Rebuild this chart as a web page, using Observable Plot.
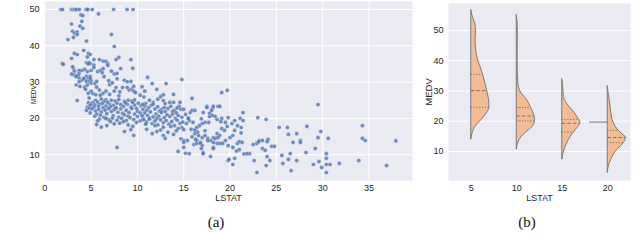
<!DOCTYPE html>
<html><head><meta charset="utf-8">
<script src="https://cdn.jsdelivr.net/npm/d3@7"></script>
<script src="https://cdn.jsdelivr.net/npm/@observablehq/plot@0.6"></script>
<style>
html,body{margin:0;padding:0;background:#fff;}
#wrap{position:relative;width:640px;height:246px;overflow:hidden;font-family:"Liberation Sans",Arial,sans-serif;}
#pa{position:absolute;left:0;top:0;}
#pb{position:absolute;left:400px;top:0;}
.cap{position:absolute;font-family:"Liberation Serif","Times New Roman","DejaVu Serif",serif;font-size:15px;color:#111;transform:translateX(-50%);white-space:nowrap;}
</style></head><body>
<div id="wrap"><div id="pa"></div><div id="pb"></div>
<div class="cap" style="left:216px;top:214px">(a)</div>
<div class="cap" style="left:527px;top:214px">(b)</div>
</div>
<script>
// ---------- Panel (a) data: [LSTAT, MEDV] ----------
const lstatMedv = [
[1.73,50],[1.92,50],[2.88,50],[2.97,50],[3.05,50],[3.16,50],[3.26,50],[3.32,50],[3.45,50],[3.73,50],[4.45,50],[4.59,50],[4.63,50],[5.12,50],[7.44,50],[8.88,50],[9.53,50],
[3.9,48.5],[4.1,48.3],[5.8,48.8],[2.9,46.0],[3.8,45.4],[4.0,46.7],[4.1,44.8],[3.0,44.0],[3.2,43.5],[3.5,43.8],[3.5,43.1],[7.2,43.1],[3.1,42.3],[2.5,41.7],[4.5,41.3],[7.5,39.8],[3.2,37.9],[3.5,37.6],[4.2,38.7],[4.7,37.9],[4.9,37.6],[2.9,36.5],[4.6,36.9],[5.3,36.2],[6.3,35.8],[8.0,36.8],[7.7,36.2],[9.3,36.2],[5.9,36.2],
[1.9,35.1],[4.5,35.4],[4.6,35.2],[4.8,35.4],[4.9,35.1],[4.7,35.0],[5.3,34.7],[6.6,35.7],[6.8,35.1],[9.5,33.8],[5.3,34.0],[6.8,34.6],[5.0,33.2],[4.6,32.9],[4.3,33.5],[4.0,33.2],[3.1,33.7],[3.2,33.0],[3.7,33.2],[5.7,32.9],[6.0,33.2],[6.3,33.7],[6.2,32.6],[7.2,33.0],[8.2,33.7],[3.0,34.2],
[3.7,32.4],[7.5,32.2],[7.8,32.4],[3.2,31.9],[3.6,31.9],[3.7,31.1],[4.0,30.5],[4.3,30.8],[4.5,31.6],[4.7,31.1],[4.9,31.6],[4.5,30.2],[4.8,30.2],[5.0,29.7],[4.6,29.2],[5.0,30.5],[5.4,29.6],[5.6,30.2],[3.7,30.1],[3.4,29.2],[7.0,29.3],[7.3,29.8],[8.6,30.5],[9.3,30.2],[6.4,31.5],[6.9,30.4],[7.8,30.9],[8.9,30.1],[11.1,31.3],[11.6,29.6],[13.1,29.6],[14.8,30.7],[2.0,34.9],[2.9,32.2],[3.4,31.5],[4.2,31.0],[4.9,31.1],
[4.3,28.6],[5.6,28.6],[5.9,27.8],[3.8,28.8],[7.7,28.5],[8.4,28.5],[9.4,28.1],[9.6,27.5],[9.1,27.8],[8.9,28.5],[8.1,27.3],[7.5,27.5],[6.6,27.5],[6.3,26.9],[5.0,27.5],[4.7,26.9],[4.4,28.0],[5.2,26.8],[12.1,28.0],[13.9,26.6],[9.6,28.8],[9.8,27.1],[10.3,26.4],[10.8,27.5],[6.0,26.4],[7.0,26.6],[8.0,26.2],[5.5,26.5],[19.1,27.1],[19.7,27.7],[12.8,26.5],[10.5,28.7],
[4.8,25.6],[5.5,25.0],[6.1,25.3],[6.6,25.1],[7.2,25.0],[7.6,24.8],[8.0,25.2],[8.6,24.7],[9.0,25.0],[9.4,24.8],[9.7,25.1],[5.7,24.5],[6.4,24.6],[5.2,24.4],[4.7,24.3],[3.5,24.9],
[5.0,24.0],[5.4,23.7],[5.9,23.9],[6.2,24.1],[6.6,23.4],[7.0,23.9],[7.4,23.6],[7.8,24.2],[8.2,23.8],[8.5,23.3],[8.9,23.9],[9.3,23.1],[9.7,23.7],[10.1,24.2],[10.4,23.5],[5.3,23.1],[5.8,23.3],[6.3,22.9],[7.1,23.2],[7.6,22.9],[4.6,23.1],[6.8,24.4],[8.7,24.3],[9.5,24.4],[4.9,23.6],
[4.8,22.8],[5.1,22.6],[5.5,22.0],[5.8,22.5],[6.1,21.8],[6.5,22.3],[6.9,22.7],[7.2,21.9],[7.5,22.4],[7.9,21.7],[8.2,22.6],[8.4,21.4],[8.8,22.2],[9.1,21.6],[9.4,22.7],[9.7,21.2],[10.0,22.0],[10.3,21.5],[10.6,22.5],[4.5,22.2],[4.9,21.5],[5.6,21.2],[6.7,21.3],[7.7,22.9],[8.6,21.0],[9.0,20.6],[9.9,22.8],[6.0,20.9],[7.4,20.7],[8.0,20.3],
[5.4,20.6],[5.9,19.8],[6.4,20.3],[6.9,19.6],[7.3,20.1],[7.8,19.5],[8.3,20.0],[8.8,19.4],[9.2,20.2],[9.6,19.7],[10.0,20.5],[10.3,19.3],[10.6,20.1],[6.6,20.0],[8.5,19.1],[9.9,18.9],[7.1,19.1],[5.7,19.3],
[5.6,18.3],[6.7,18.0],[7.5,18.5],[8.1,18.7],[9.0,18.2],[9.5,17.8],[8.6,16.4],[9.6,15.3],[7.8,12.0],[6.1,17.6],[9.3,16.9],
[10.9,24.1],[11.7,24.4],[13.0,24.1],[13.5,24.4],[14.6,24.4],[14.5,23.3],[12.8,24.9],[13.9,24.4],[12.2,25.3],[11.3,25.0],[15.9,25.5],[10.7,25.9],[12.5,26.0],
[10.8,23.4],[11.2,22.9],[11.5,23.6],[11.9,22.6],[12.2,23.2],[12.6,22.4],[12.9,23.0],[13.3,22.7],[13.6,23.3],[14.0,22.2],[14.3,22.9],[14.7,22.5],[11.0,22.2],[12.4,22.0],[13.8,21.9],[15.0,22.5],[10.6,23.9],[11.7,23.9],
[10.8,21.5],[11.1,20.8],[11.4,21.8],[11.7,20.4],[12.0,21.2],[12.3,20.6],[12.6,21.6],[12.9,20.2],[13.2,21.0],[13.5,20.5],[13.8,21.2],[14.1,20.0],[14.4,20.8],[14.8,20.3],[11.3,20.1],[12.1,20.0],[13.0,21.9],[14.2,21.5],[10.5,20.8],[15.2,21.1],[15.7,21.6],[15.9,22.2],[16.2,22.2],[15.5,20.0],
[10.7,19.6],[11.0,19.0],[11.3,19.8],[11.6,18.6],[11.9,19.3],[12.2,18.2],[12.5,19.6],[12.8,18.8],[13.1,19.4],[13.4,18.4],[13.7,19.1],[14.0,18.0],[14.3,19.5],[14.6,18.6],[14.9,19.0],[11.9,18.0],[12.8,17.6],[13.6,17.8],[14.8,17.5],[14.4,17.2],[15.0,16.9],[10.9,18.4],[15.3,18.6],[15.6,19.4],[16.0,18.9],
[11.6,15.8],[12.1,16.4],[12.8,15.3],[12.5,16.8],[13.3,16.2],[13.9,15.6],[14.2,16.6],[11.0,17.0],[13.0,14.5],[14.7,14.4],[15.0,13.9],[15.0,13.4],[15.4,13.9],[15.0,12.0],[14.4,10.9],[15.6,10.3],[15.2,10.4],
[17.1,21.6],[17.5,23.3],[18.1,22.7],[17.8,21.4],[17.8,20.5],[18.7,23.3],[18.2,23.3],[18.9,23.3],[17.5,23.0],[18.0,22.2],[18.1,20.8],[18.4,20.5],[17.7,18.9],[17.3,18.9],[17.0,18.6],[16.7,18.0],[16.4,17.5],[15.5,20.0],[19.1,20.0],[19.5,18.9],[19.8,20.2],[20.2,18.6],[20.5,19.4],[20.8,18.0],[19.1,17.2],[19.4,16.7],[19.7,17.8],[18.6,15.8],[18.9,15.3],[18.2,14.7],[16.2,15.8],[16.6,15.3],[17.0,14.7],[17.3,15.3],[17.6,14.5],[17.9,13.9],[18.2,13.4],[16.4,13.9],[16.8,13.4],[16.1,12.8],[20.0,14.7],[20.5,16.7],[20.8,13.1],[21.0,11.4],[19.5,13.9],[19.8,12.5],[16.4,13.1],[16.8,13.1],[16.3,14.2],[17.0,12.5],[16.9,11.7],[17.6,13.9],[18.2,12.0],[18.6,13.1],[18.4,14.5],[17.1,10.6],[17.9,9.5],[17.1,10.3],[18.9,13.1],[19.2,13.1],[18.2,11.7],[18.7,14.7],[18.6,19.7],[16.5,16.2],[17.3,16.6],[15.8,17.0],[16.9,19.9],[19.0,19.1],[15.9,14.9],[16.2,16.8],
[19.8,8.4],[19.9,8.7],[20.3,7.3],[20.5,9.0],[22.6,8.4],[22.9,5.1],[23.9,7.0],[24.3,8.4],[20.3,15.3],[21.0,13.6],[21.3,13.4],[21.1,20.0],[21.4,19.4],[21.2,17.5],[21.4,21.6],[23.0,20.2],[23.9,19.7],[22.5,12.8],[22.9,13.1],[23.2,13.9],[23.1,13.6],[23.5,13.9],[24.1,14.2],[24.0,13.6],[24.5,12.3],[24.8,12.3],[23.5,11.7],[23.8,11.2],[22.1,10.3],[21.8,10.3],[21.5,10.2],[24.0,9.5],[20.3,12.0],[21.2,16.0],[20.7,11.0],
[25.6,9.8],[25.7,7.6],[26.3,8.7],[26.6,5.6],[27.2,8.4],[28.2,10.6],[29.0,7.3],[29.6,8.1],[29.9,6.5],[30.4,10.3],[30.4,9.0],[30.4,7.3],[30.4,5.1],[31.8,7.6],[33.9,8.4],[36.9,7.0],[37.9,13.8],[34.3,18.0],[34.3,14.5],[34.6,13.9],[28.3,17.8],[29.8,16.4],[29.5,14.7],[30.6,14.5],[29.2,11.7],[25.3,17.5],[26.2,17.5],[26.3,15.6],[27.2,15.8],[27.6,13.9],[27.6,13.4],[26.8,13.4],[26.5,10.3],[29.5,23.8],[30.8,7.3]
];
const lstatTicksA = [0,5,10,15,20,25,30,35];
const medvTicksA = [10,20,30,40,50];

// ---------- Panel (b) data ----------
const lstatCats = [5,10,15,20];
// profiles: [MEDV, relative half-width]
const violin5  = [[56.6,0],[54.4,0.09],[52.2,0.22],[50,0.26],[46.7,0.24],[43.4,0.27],[40.1,0.38],[37.9,0.51],[35.5,0.64],[32.4,0.78],[30.1,0.87],[26.9,0.98],[24.6,1.0],[22.5,0.84],[20.3,0.55],[18.1,0.22],[15.9,0.07],[13.9,0]];
const violin10 = [[55.0,0],[52,0.05],[48,0.06],[44,0.05],[40,0.05],[36,0.06],[33,0.08],[31.3,0.11],[29.1,0.27],[26.9,0.58],[24.6,0.77],[21.7,0.97],[20.1,1.0],[18.1,0.87],[15.9,0.45],[13.7,0.15],[10.6,0]];
const violin15 = [[33.8,0],[31.3,0.05],[28.0,0.09],[25.8,0.26],[23.6,0.56],[20.9,0.88],[19.5,1.0],[18.1,0.88],[15.9,0.58],[13.7,0.35],[10.4,0.12],[7.3,0]];
const violin20 = [[31.5,0],[29.1,0.05],[26.9,0.11],[23.6,0.18],[20.3,0.27],[18.1,0.44],[15.9,0.76],[14.5,1.0],[12.6,0.86],[10.4,0.5],[7.1,0.18],[4.9,0.05],[2.9,0]];
const violinProfiles = [violin5, violin10, violin15, violin20];
const quartiles = [[24.6,30.1,35.5],[20.1,21.7,24.5],[16.4,19.3,20.6],[12.9,14.6,17.0]];
const leftHalf20 = 19.7; // degenerate other-hue side at LSTAT 20
const medvTicksB = [10,20,30,40,50];

const textColor = "#262626";
const bg = "#eaeaf2";
const fontFam = "'Liberation Sans', Arial, sans-serif";

// ---------- Panel (a) ----------
const pa = Plot.plot({
  width: 420, height: 205,
  marginLeft: 44, marginRight: 8, marginTop: 1, marginBottom: 25,
  style: {fontFamily: fontFam, fontSize: "9px", color: textColor, background: "transparent", overflow: "visible"},
  x: {domain: [-0.03, 39.7]},
  y: {domain: [2.9, 52.2]},
  marks: [
    Plot.frame({fill: bg, stroke: "none"}),
    Plot.gridX({ticks: lstatTicksA, stroke: "white", strokeOpacity: 1, strokeWidth: 1}),
    Plot.gridY({ticks: medvTicksA, stroke: "white", strokeOpacity: 1, strokeWidth: 1}),
    Plot.axisX({ticks: lstatTicksA, tickSize: 0, tickPadding: 4, label: null}),
    Plot.axisY({ticks: medvTicksA, tickSize: 0, tickPadding: 5, label: null}),
    Plot.dot(lstatMedv, {x: d => d[0], y: d => d[1], r: 2.1, fill: "#4c72b0", fillOpacity: 0.8, stroke: "white", strokeWidth: 0.3}),
    Plot.text(["LSTAT"], {text: d => d, frameAnchor: "bottom", textAnchor: "middle", lineAnchor: "middle", dy: 18, fontSize: 9}),
    Plot.text(["MEDV"], {text: d => d, frameAnchor: "left", textAnchor: "middle", lineAnchor: "middle", dx: -11, dy: 3.5, rotate: -90, fontSize: 6.5})
  ]
});
document.getElementById("pa").appendChild(pa);

// ---------- Panel (b) ----------
const halfBand = 2; // 0.4 of a 5-unit category step
const violinFill = "#f4bc94";
const violinStroke = "#7a7a7a";
const violinMarks = [];
const quartileRows = [];
lstatCats.forEach((cat, i) => {
  const prof = violinProfiles[i];
  violinMarks.push(Plot.areaX(prof, {
    y: d => d[0], x1: cat, x2: d => cat + halfBand * d[1],
    fill: violinFill, stroke: violinStroke, strokeWidth: 1, curve: "monotone-y"
  }));
  const interp = d3.scaleLinear().domain(prof.map(d => d[0])).range(prof.map(d => d[1])).clamp(true);
  quartiles[i].forEach((q, j) => {
    quartileRows.push({cat, q, w: interp(q), median: j === 1});
  });
});

const pb = Plot.plot({
  width: 240, height: 205,
  marginLeft: 48, marginRight: 10, marginTop: 3, marginBottom: 25,
  style: {fontFamily: fontFam, fontSize: "9px", color: textColor, background: "transparent", overflow: "visible"},
  x: {domain: [2.5, 22.5]},
  y: {domain: [0.4, 58.9]},
  marks: [
    Plot.frame({fill: bg, stroke: "none"}),
    Plot.gridY({ticks: medvTicksB, stroke: "white", strokeOpacity: 1, strokeWidth: 1}),
    Plot.axisX({ticks: lstatCats, tickSize: 0, tickPadding: 4, label: null}),
    Plot.axisY({ticks: medvTicksB, tickSize: 0, tickPadding: 5, label: null}),
    Plot.ruleY([leftHalf20], {y: d => d, x1: 20 - halfBand, x2: 20, stroke: "#b0b0b0", strokeWidth: 2}),
    ...violinMarks,
    Plot.ruleY(quartileRows.filter(d => !d.median), {y: "q", x1: "cat", x2: d => d.cat + halfBand * d.w, stroke: "#666", strokeWidth: 0.9, strokeDasharray: "1.2,1.6"}),
    Plot.ruleY(quartileRows.filter(d => d.median), {y: "q", x1: "cat", x2: d => d.cat + halfBand * d.w, stroke: "#666", strokeWidth: 0.9, strokeDasharray: "3.5,2"}),
    Plot.text(["LSTAT"], {text: d => d, frameAnchor: "bottom", textAnchor: "middle", lineAnchor: "middle", dy: 18, fontSize: 9}),
    Plot.text(["MEDV"], {text: d => d, frameAnchor: "left", textAnchor: "middle", lineAnchor: "middle", dx: -20, rotate: -90, fontSize: 9.5})
  ]
});
document.getElementById("pb").appendChild(pb);
</script>
</body></html>
